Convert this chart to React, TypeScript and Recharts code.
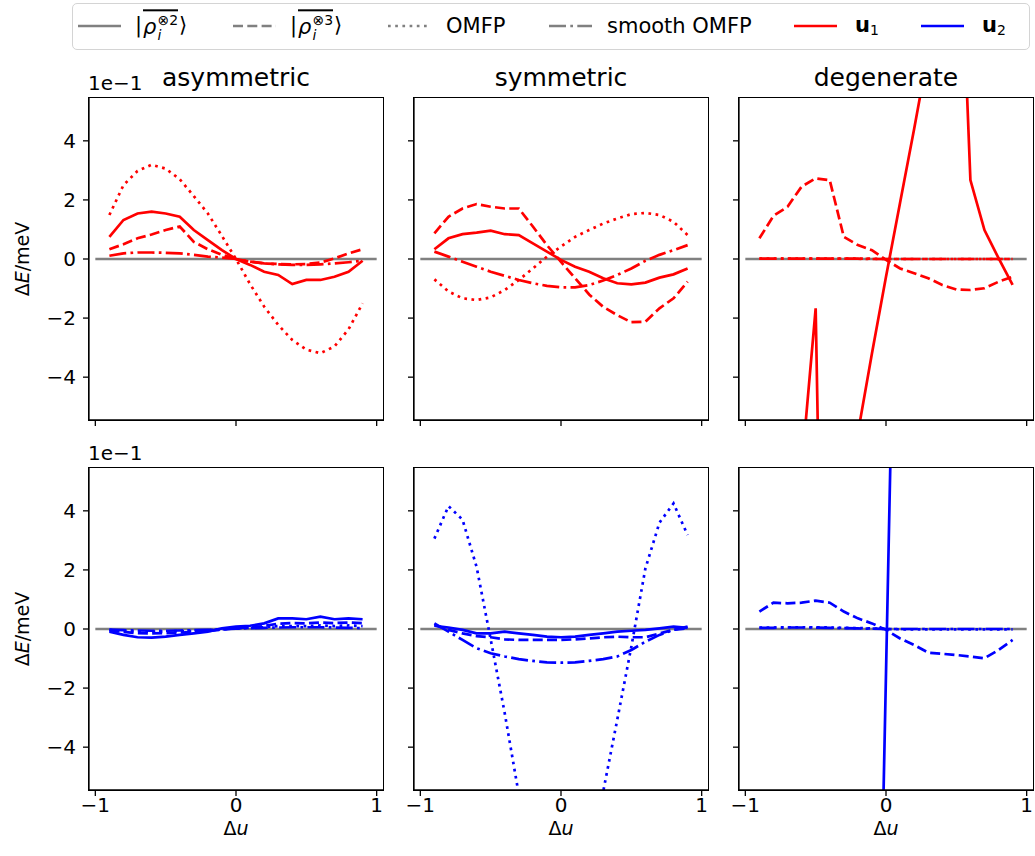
import React from 'react';
import { LineChart, Line, XAxis, YAxis } from 'recharts';

// ---------- data (values in units of 1e-1 meV) ----------
const du = [-0.9, -0.8, -0.7, -0.6, -0.5, -0.4, -0.3, -0.2, -0.1, 0, 0.1, 0.2, 0.3, 0.4, 0.5, 0.6, 0.7, 0.8, 0.9];
const refX = [-1, 1];
const refY = [0, 0];
const xTicks = [-1, 0, 1];
const yTicks = [-4, -2, 0, 2, 4];
const titles = ['asymmetric', 'symmetric', 'degenerate'];

// asymmetric, u1
const asymU1Solid = [0.75, 1.32, 1.54, 1.6, 1.54, 1.43, 0.98, 0.64, 0.3, 0, -0.2, -0.43, -0.54, -0.85, -0.71, -0.71, -0.6, -0.43, -0.06];
const asymU1Dashed = [0.33, 0.5, 0.7, 0.83, 0.98, 1.1, 0.58, 0.33, 0.14, 0, -0.09, -0.15, -0.17, -0.18, -0.17, -0.12, 0.02, 0.19, 0.33];
const asymU1Dotted = [1.49, 2.5, 2.98, 3.19, 3.06, 2.7, 2.13, 1.54, 0.78, 0, -0.85, -1.61, -2.23, -2.74, -3.07, -3.19, -2.96, -2.38, -1.5];
const asymU1Smooth = [0.11, 0.19, 0.22, 0.22, 0.21, 0.19, 0.14, 0.08, 0.05, 0, -0.09, -0.15, -0.18, -0.2, -0.2, -0.18, -0.15, -0.11, -0.06];

// symmetric, u1
const symU1Solid = [0.33, 0.7, 0.84, 0.89, 0.96, 0.84, 0.81, 0.53, 0.25, -0.03, -0.26, -0.43, -0.65, -0.82, -0.86, -0.8, -0.63, -0.52, -0.32];
const symU1Dashed = [0.87, 1.43, 1.71, 1.86, 1.77, 1.71, 1.71, 1.1, 0.47, -0.1, -0.65, -1.2, -1.62, -1.9, -2.14, -2.12, -1.67, -1.33, -0.77];
const symU1Dotted = [-0.69, -1.1, -1.33, -1.39, -1.3, -1.05, -0.71, -0.32, 0.08, 0.42, 0.75, 0.98, 1.2, 1.37, 1.52, 1.56, 1.49, 1.26, 0.81];
const symU1Smooth = [0.25, 0.08, -0.09, -0.26, -0.43, -0.57, -0.71, -0.82, -0.91, -0.96, -0.96, -0.88, -0.73, -0.54, -0.32, -0.06, 0.14, 0.3, 0.47];

// degenerate, u1
const degU1Solid = [-9.5, -8.8, -8.0, -7.1, -1.67, -28, -25, -5.9, -3.2, -0.6, 1.9, 4.4, 7.0, 22, 14.8, 2.67, 0.98, 0.03, -0.88];
const degU1Dashed = [0.7, 1.46, 1.77, 2.45, 2.73, 2.67, 0.75, 0.47, 0.3, -0.03, -0.32, -0.48, -0.65, -0.88, -1.03, -1.05, -0.99, -0.77, -0.6];
const degU1Dotted = [0.01, 0.01, 0.01, 0.01, 0.01, 0.01, 0.01, 0.01, 0.01, 0, 0, 0, 0, 0, 0, 0, 0, 0, 0];
const degU1Smooth = [0.01, 0.01, 0.01, 0.01, 0.01, 0.01, 0.01, 0.01, 0, 0, 0, 0, 0, 0, 0, 0, 0, 0, 0];

// asymmetric, u2
const asymU2Solid = [-0.09, -0.2, -0.28, -0.29, -0.26, -0.2, -0.15, -0.09, 0.02, 0.08, 0.11, 0.19, 0.36, 0.36, 0.33, 0.42, 0.33, 0.36, 0.33];
const asymU2Dashed = [-0.05, -0.1, -0.14, -0.15, -0.14, -0.12, -0.1, -0.07, -0.02, 0.03, 0.06, 0.1, 0.18, 0.2, 0.19, 0.22, 0.2, 0.22, 0.2];
const asymU2Dotted = [-0.03, -0.06, -0.08, -0.09, -0.08, -0.07, -0.06, -0.04, -0.01, 0.02, 0.04, 0.06, 0.1, 0.1, 0.1, 0.12, 0.1, 0.12, 0.1];
const asymU2Smooth = [-0.02, -0.04, -0.05, -0.06, -0.06, -0.05, -0.04, -0.03, -0.01, 0.01, 0.03, 0.04, 0.05, 0.06, 0.06, 0.06, 0.05, 0.04, 0.03];

// symmetric, u2
const symU2Solid = [0.11, 0.05, -0.03, -0.15, -0.15, -0.09, -0.15, -0.2, -0.26, -0.28, -0.26, -0.2, -0.15, -0.09, -0.06, -0.03, 0.02, 0.08, 0.04];
const symU2Dashed = [0.14, -0.03, -0.15, -0.24, -0.28, -0.35, -0.37, -0.37, -0.37, -0.37, -0.35, -0.32, -0.28, -0.26, -0.28, -0.28, -0.15, -0.03, 0.02];
const symU2Dotted = [3.06, 4.16, 3.7, 2.1, -0.35, -2.85, -5.6, -12, -17, -19, -17, -12, -5.5, -3.07, -0.6, 2.05, 3.6, 4.25, 3.18];
const symU2Smooth = [0.19, -0.09, -0.37, -0.65, -0.82, -0.93, -1.02, -1.08, -1.13, -1.14, -1.13, -1.08, -1.02, -0.93, -0.71, -0.43, -0.2, -0.03, 0.08];

// degenerate, u2
const degU2Solid = [-31, -29, -33, -30, -27, -29, -26, -28, -24.5, -1.5, 21.5, 25, 23, 27, 24, 26, 28, 25, 27];
const degU2Dashed = [0.59, 0.89, 0.87, 0.89, 0.96, 0.89, 0.59, 0.36, 0.19, -0.03, -0.32, -0.54, -0.8, -0.84, -0.88, -0.93, -0.99, -0.71, -0.37];
const degU2Dotted = [0.05, 0.05, 0.06, 0.06, 0.06, 0.05, 0.04, 0.03, 0.02, 0, -0.01, -0.01, -0.01, -0.01, -0.01, -0.01, -0.01, -0.01, -0.01];
const degU2Smooth = [0.04, 0.04, 0.05, 0.05, 0.05, 0.04, 0.03, 0.02, 0.01, 0, 0, 0, 0, 0, 0, 0, 0, 0, 0];

// ---------- layout ----------
const FONT = "'DejaVu Sans', sans-serif";
const RED = '#ff0000';
const BLUE = '#0000ff';
const GRAY = '#808080';
const COLS = [89, 414, 739];
const ROWS = [98, 468];
const PW = 294;
const PH = 322;
const YW = 60;
const XH = 40;
const MT = 2;
const MR = 3;
const LW = 2.7;
const DASH = '10 4.3';
const DOT = '2.7 4.5';
const DASHDOT = '17 4.3 2.7 4.3';
const SPINE = 1.3;

const fmt = (v: number) => (v < 0 ? '\u2212' + Math.abs(v) : String(v));
const blank = () => '';
const tickStyle = { fontSize: 20, fill: '#000', fontFamily: FONT };

type PanelProps = {
  left: number;
  top: number;
  color: string;
  s: number[];
  d: number[];
  o: number[];
  sm: number[];
  xLabels: boolean;
  yLabels: boolean;
};

function Panel(p: PanelProps) {
  const rows = du.map((x, i) => ({ x, s: p.s[i], d: p.d[i], o: p.o[i], sm: p.sm[i] }));
  const ref = refX.map((x, i) => ({ x, z: refY[i] }));
  const axisLine = { stroke: '#000', strokeWidth: SPINE };
  return (
    <>
      <div style={{ position: 'absolute', left: p.left - YW, top: p.top - MT }}>
        <LineChart width={YW + PW + MR} height={MT + PH + XH} margin={{ top: MT, right: MR, bottom: 0, left: 0 }}>
          <XAxis
            xAxisId="b"
            type="number"
            dataKey="x"
            domain={[-1.045, 1.045]}
            ticks={xTicks}
            allowDataOverflow
            height={XH}
            tickSize={6}
            tickMargin={2}
            axisLine={axisLine}
            tickLine={axisLine}
            tick={tickStyle}
            tickFormatter={p.xLabels ? fmt : blank}
          />
          <YAxis
            yAxisId="l"
            type="number"
            domain={[-5.45, 5.45]}
            ticks={yTicks}
            allowDataOverflow
            width={YW}
            tickSize={6}
            tickMargin={7}
            axisLine={axisLine}
            tickLine={axisLine}
            tick={tickStyle}
            tickFormatter={p.yLabels ? fmt : blank}
          />
          <Line xAxisId="b" yAxisId="l" data={ref} dataKey="z" stroke={GRAY} strokeWidth={LW} dot={false} isAnimationActive={false} type="linear" />
          <Line xAxisId="b" yAxisId="l" data={rows} dataKey="s" stroke={p.color} strokeWidth={LW} dot={false} isAnimationActive={false} type="linear" />
          <Line xAxisId="b" yAxisId="l" data={rows} dataKey="d" stroke={p.color} strokeWidth={LW} strokeDasharray={DASH} dot={false} isAnimationActive={false} type="linear" />
          <Line xAxisId="b" yAxisId="l" data={rows} dataKey="o" stroke={p.color} strokeWidth={LW} strokeDasharray={DOT} dot={false} isAnimationActive={false} type="linear" />
          <Line xAxisId="b" yAxisId="l" data={rows} dataKey="sm" stroke={p.color} strokeWidth={LW} strokeDasharray={DASHDOT} dot={false} isAnimationActive={false} type="linear" />
        </LineChart>
      </div>
      <div
        style={{
          position: 'absolute',
          left: p.left - SPINE / 2,
          top: p.top - SPINE / 2,
          width: PW + SPINE,
          height: PH + SPINE,
          border: `${SPINE}px solid #000`,
          boxSizing: 'border-box',
          pointerEvents: 'none',
        }}
      />
    </>
  );
}

function Txt({ x, y, size, children, rotate }: { x: number; y: number; size: number; children: React.ReactNode; rotate?: boolean }) {
  return (
    <div
      style={{
        position: 'absolute',
        left: x,
        top: y,
        transform: `translate(-50%, -50%)${rotate ? ' rotate(-90deg)' : ''}`,
        fontFamily: FONT,
        fontSize: size,
        lineHeight: 1,
        whiteSpace: 'nowrap',
        color: '#000',
      }}
    >
      {children}
    </div>
  );
}

function RhoLabel({ n }: { n: number }) {
  return (
    <span style={{ display: 'inline-flex', alignItems: 'center', fontFamily: FONT, fontSize: 21, lineHeight: 1 }}>
      <span>|</span>
      <span style={{ display: 'inline-flex', alignItems: 'center', borderTop: '2px solid #000', paddingTop: 2, marginLeft: 1 }}>
        <span style={{ fontStyle: 'italic' }}>ρ</span>
        <span style={{ display: 'inline-flex', flexDirection: 'column', fontSize: 14, lineHeight: 1.05, marginLeft: 1 }}>
          <span>⊗{n}</span>
          <span style={{ fontStyle: 'italic' }}>i</span>
        </span>
      </span>
      <span style={{ marginLeft: 1 }}>⟩</span>
    </span>
  );
}

function Handle({ x, color, dash }: { x: number; color: string; dash?: string }) {
  return (
    <svg style={{ position: 'absolute', left: x, top: 21 }} width={44} height={10}>
      <line x1={0} y1={5} x2={43} y2={5} stroke={color} strokeWidth={LW} strokeDasharray={dash} />
    </svg>
  );
}

function LegendLabel({ x, children }: { x: number; children: React.ReactNode }) {
  return (
    <div style={{ position: 'absolute', left: x, top: 26, transform: 'translateY(-50%)', fontFamily: FONT, fontSize: 21, lineHeight: 1, whiteSpace: 'nowrap' }}>
      {children}
    </div>
  );
}

function BoldU({ n }: { n: number }) {
  return (
    <span>
      <span style={{ fontWeight: 'bold' }}>u</span>
      <span style={{ fontSize: 14, verticalAlign: '-0.25em' }}>{n}</span>
    </span>
  );
}

export default function App() {
  const panels = [
    { color: RED, s: asymU1Solid, d: asymU1Dashed, o: asymU1Dotted, sm: asymU1Smooth },
    { color: RED, s: symU1Solid, d: symU1Dashed, o: symU1Dotted, sm: symU1Smooth },
    { color: RED, s: degU1Solid, d: degU1Dashed, o: degU1Dotted, sm: degU1Smooth },
    { color: BLUE, s: asymU2Solid, d: asymU2Dashed, o: asymU2Dotted, sm: asymU2Smooth },
    { color: BLUE, s: symU2Solid, d: symU2Dashed, o: symU2Dotted, sm: symU2Smooth },
    { color: BLUE, s: degU2Solid, d: degU2Dashed, o: degU2Dotted, sm: degU2Smooth },
  ];
  return (
    <div style={{ position: 'absolute', left: 0, top: 0, width: 1035, height: 856, background: '#fff', overflow: 'hidden' }}>
      {panels.map((p, i) => {
        const r = Math.floor(i / 3);
        const c = i % 3;
        return (
          <Panel
            key={i}
            left={COLS[c]}
            top={ROWS[r]}
            color={p.color}
            s={p.s}
            d={p.d}
            o={p.o}
            sm={p.sm}
            xLabels={r === 1}
            yLabels={c === 0}
          />
        );
      })}
      {titles.map((t, c) => (
        <Txt key={t} x={COLS[c] + PW / 2} y={77} size={25}>
          {t}
        </Txt>
      ))}
      {COLS.map((cx, c) => (
        <Txt key={'xl' + c} x={cx + PW / 2} y={828} size={19}>
          Δ<span style={{ fontStyle: 'italic' }}>u</span>
        </Txt>
      ))}
      {ROWS.map((ry, r) => (
        <Txt key={'yl' + r} x={22} y={ry + PH / 2} size={19} rotate>
          Δ<span style={{ fontStyle: 'italic' }}>E</span>/meV
        </Txt>
      ))}
      {ROWS.map((ry, r) => (
        <div key={'off' + r} style={{ position: 'absolute', left: 88, top: ry - 25, fontFamily: FONT, fontSize: 20, lineHeight: 1 }}>
          1e−1
        </div>
      ))}
      <div style={{ position: 'absolute', left: 72, top: 3, width: 956, height: 45, border: '1.3px solid #d4d4d4', borderRadius: 5, background: '#fff' }} />
      <Handle x={78} color={GRAY} />
      <LegendLabel x={135}><RhoLabel n={2} /></LegendLabel>
      <Handle x={233} color={GRAY} dash={DASH} />
      <LegendLabel x={290}><RhoLabel n={3} /></LegendLabel>
      <Handle x={388} color={GRAY} dash={DOT} />
      <LegendLabel x={446}>OMFP</LegendLabel>
      <Handle x={549} color={GRAY} dash={DASHDOT} />
      <LegendLabel x={607}>smooth OMFP</LegendLabel>
      <Handle x={794} color={RED} />
      <LegendLabel x={855}><BoldU n={1} /></LegendLabel>
      <Handle x={921} color={BLUE} />
      <LegendLabel x={982}><BoldU n={2} /></LegendLabel>
    </div>
  );
}
